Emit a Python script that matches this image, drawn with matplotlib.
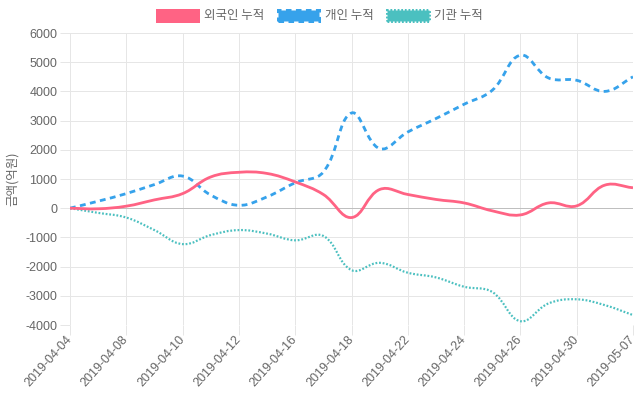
import numpy as np
import matplotlib
matplotlib.use('Agg')
import matplotlib.pyplot as plt
from matplotlib.path import Path
from matplotlib.patches import PathPatch, Patch

plt.rcParams['font.family'] = ['Liberation Sans', 'Noto Sans CJK KR', 'DejaVu Sans']
plt.rcParams['lines.scale_dashes'] = False

dates = ['2019-04-04', '2019-04-05', '2019-04-08', '2019-04-09', '2019-04-10',
         '2019-04-11', '2019-04-12', '2019-04-15', '2019-04-16', '2019-04-17',
         '2019-04-18', '2019-04-19', '2019-04-22', '2019-04-23', '2019-04-24',
         '2019-04-25', '2019-04-26', '2019-04-29', '2019-04-30', '2019-05-02',
         '2019-05-07']
foreign = [0, -20, 70, 285, 500, 1070, 1230, 1190, 900, 470, -320, 640, 470,
           300, 180, -90, -230, 180, 80, 790, 700]
individual = [0, 240, 500, 810, 1100, 450, 100, 390, 870, 1240, 3260, 2040,
              2610, 3070, 3560, 4040, 5240, 4460, 4380, 4000, 4500]
institution = [0, -160, -320, -750, -1230, -920, -750, -870, -1100, -950,
               -2120, -1870, -2210, -2370, -2690, -2870, -3870, -3260, -3120,
               -3320, -3660]
series_names = ['외국인 누적', '개인 누적', '기관 누적']
y_ticks = list(range(-4000, 6001, 1000))
y_label = '금액(억원)'

RED = (255/255, 99/255, 132/255)
BLUE = (54/255, 162/255, 235/255)
TEAL = (75/255, 192/255, 192/255)
GRID = '#e6e6e6'
ZERO = '#bfbfbf'
TXT = '#666666'

W, H = 640, 400
fig = plt.figure(figsize=(W/100, H/100), dpi=100)
L, R, T, B = 70, 633, 33, 325
ax = fig.add_axes([L/W, 1-B/H, (R-L)/W, (B-T)/H])

n = len(dates)
ax.set_xlim(0, n-1)
ax.set_ylim(min(y_ticks), max(y_ticks))
sx = (R-L)/(n-1)
sy = (B-T)/(max(y_ticks)-min(y_ticks))


def spline_path(ys, t=0.4):
    P = np.column_stack([np.arange(len(ys))*sx, np.asarray(ys, float)*sy])
    m = len(P)
    cprev, cnext = [], []
    for i in range(m):
        prev = P[i-1] if i > 0 else P[i]
        cur = P[i]
        nxt = P[i+1] if i < m-1 else P[i]
        d01 = np.hypot(*(cur-prev)); d12 = np.hypot(*(nxt-cur))
        s = d01+d12
        s01 = d01/s if s else 0; s12 = d12/s if s else 0
        cprev.append(cur - t*s01*(nxt-prev))
        cnext.append(cur + t*s12*(nxt-prev))
    verts = [P[0]]; codes = [Path.MOVETO]
    for i in range(m-1):
        verts += [cnext[i], cprev[i+1], P[i+1]]
        codes += [Path.CURVE4]*3
    verts = np.array(verts)
    verts[:, 0] /= sx; verts[:, 1] /= sy
    return Path(verts, codes)

px = 0.72
ax.add_patch(PathPatch(spline_path(institution), fill=False, edgecolor=TEAL,
                       lw=2.2*px, linestyle=(0, (1.3, 1.3)), zorder=3,
                       capstyle='butt'))
ax.add_patch(PathPatch(spline_path(individual), fill=False, edgecolor=BLUE,
                       lw=2.8*px, linestyle=(0, (4.2, 3.2)), zorder=4,
                       capstyle='butt'))
ax.add_patch(PathPatch(spline_path(foreign), fill=False, edgecolor=RED,
                       lw=2.8*px, zorder=5))

ax.set_xticks(range(0, n, 2))
ax.set_xticklabels(dates[::2], rotation=48, ha='right', va='center',
                   rotation_mode='anchor', color=TXT, fontsize=9)
ax.set_yticks(y_ticks)
ax.set_yticklabels([str(v) for v in y_ticks], color=TXT, fontsize=9)
ax.tick_params(axis='both', length=7.2, width=px, color=GRID, pad=2)
ax.grid(True, color=GRID, lw=px, alpha=1)
ax.axhline(0, color=ZERO, lw=px, zorder=1.5)
for s in ax.spines.values():
    s.set_visible(False)
ax.set_axisbelow(True)

fig.text(12/W, 1-179/H, y_label, rotation=90, ha='center', va='center',
         color=TXT, fontsize=9, family=['Noto Sans CJK KR', 'DejaVu Sans'])

handles = [
    Patch(facecolor=RED, edgecolor=RED, lw=3*px),
    Patch(facecolor=BLUE, edgecolor=BLUE, lw=3*px, linestyle=(0, (4.0, 3.2))),
    Patch(facecolor=TEAL, edgecolor=TEAL, lw=3*px, linestyle=(0, (1.3, 1.3))),
]
leg = fig.legend(handles, series_names, loc='center', ncol=3,
                 bbox_to_anchor=(0.5, 1-16/H), frameon=False,
                 handlelength=3.3, handleheight=0.95, handletextpad=0.45,
                 columnspacing=1.1, borderpad=0,
                 prop={'family': ['Noto Sans CJK KR', 'DejaVu Sans'], 'size': 9})
for t in leg.get_texts():
    t.set_color(TXT)

fig.savefig('out.png', dpi=100)
